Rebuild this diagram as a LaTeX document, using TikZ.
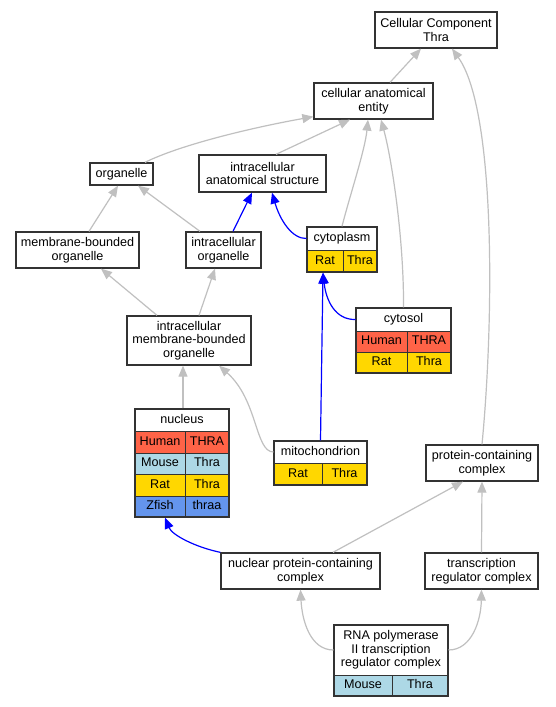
\documentclass[tikz,border=0pt]{standalone}
\usepackage{fontspec}
\setmainfont{Liberation Sans}
\usetikzlibrary{arrows.meta}
\definecolor{human}{HTML}{FF6347}
\definecolor{mouse}{HTML}{ADD8E6}
\definecolor{rat}{HTML}{FFD700}
\definecolor{zfish}{HTML}{6495ED}
\definecolor{bd}{HTML}{333333}
\definecolor{eg}{HTML}{C0C0C0}
\newcommand{\boxnode}[6]{\node[box, minimum width={#3pt-#1pt}, minimum height={#4pt-#2pt}] (#5) at ({(#1+#3)/2},{(#2+#4)/2}) {#6};}
\newcommand{\cellnode}[7]{\node[cellst, fill=#5, minimum width={#3pt-#1pt}, minimum height={#4pt-#2pt}] (#7) at ({(#1+#3)/2},{(#2+#4)/2}) {#6};}
\newcommand{\tblframe}[5]{\node[tframe, minimum width={#3pt-#1pt}, minimum height={#4pt-#2pt}] (#5) at ({(#1+#3)/2},{(#2+#4)/2}) {};}
\begin{document}
\begin{tikzpicture}[x=1pt,y=-1pt, font=\fontsize{12.6}{13.5}\selectfont,
  box/.style={draw=bd, line width=1.3pt, fill=white, align=center, inner sep=0pt},
  cellst/.style={draw=bd, line width=1pt, align=center, inner sep=0pt, text height=9.2pt, text depth=2.6pt},
  tframe/.style={draw=bd, line width=1.3pt, inner sep=0pt},
  tip/.style={-{Triangle[length=11pt,width=9pt]}},
  gedge/.style={draw=eg, line width=1.2pt, tip},
  bedge/.style={draw=blue, line width=1.2pt, tip}]
\useasboundingbox (0,0) rectangle (555,707);
\fill[white] (0,0) rectangle (555,707);
% plain boxes
\boxnode{375}{12}{497}{48}{cc}{Cellular Component\\Thra}
\boxnode{314}{83}{433}{119}{cae}{cellular anatomical\\entity}
\boxnode{90}{163}{153}{185}{org}{organelle}
\boxnode{199}{155}{326}{192}{ias}{intracellular\\anatomical structure}
\boxnode{16}{232}{139}{268}{mbo}{membrane-bounded\\organelle}
\boxnode{186}{232}{261}{268}{io}{intracellular\\organelle}
\boxnode{127}{316}{251}{365}{imbo}{intracellular\\membrane-bounded\\organelle}
\boxnode{426}{445}{538}{481}{pcc}{protein-containing\\complex}
\boxnode{221}{553}{380}{589}{npcc}{nuclear protein-containing\\complex}
\boxnode{425}{553}{538}{589}{trc}{transcription\\regulator complex}
% cytoplasm
\cellnode{307}{227}{377}{250}{white}{cytoplasm}{cytoh}
\cellnode{307}{250}{343}{272}{rat}{Rat}{cyto1}
\cellnode{343}{250}{377}{272}{rat}{Thra}{cyto2}
\tblframe{307}{227}{377}{272}{cyto}
% cytosol
\cellnode{356}{308}{451}{331}{white}{cytosol}{cytosolh}
\cellnode{356}{331}{407}{352}{human}{Human}{cytosol1}
\cellnode{407}{331}{451}{352}{human}{THRA}{cytosol2}
\cellnode{356}{352}{407}{373}{rat}{Rat}{cytosol3}
\cellnode{407}{352}{451}{373}{rat}{Thra}{cytosol4}
\tblframe{356}{308}{451}{373}{cytosol}
% nucleus
\cellnode{135}{409}{229}{431}{white}{nucleus}{nuch}
\cellnode{135}{431}{185}{453}{human}{Human}{nuc1}
\cellnode{185}{431}{229}{453}{human}{THRA}{nuc2}
\cellnode{135}{453}{185}{474}{mouse}{Mouse}{nuc3}
\cellnode{185}{453}{229}{474}{mouse}{Thra}{nuc4}
\cellnode{135}{474}{185}{496}{rat}{Rat}{nuc5}
\cellnode{185}{474}{229}{496}{rat}{Thra}{nuc6}
\cellnode{135}{496}{185}{517}{zfish}{Zfish}{nuc7}
\cellnode{185}{496}{229}{517}{zfish}{thraa}{nuc8}
\tblframe{135}{409}{229}{517}{nuc}
% mitochondrion
\cellnode{274}{441}{367}{463}{white}{mitochondrion}{mitoh}
\cellnode{274}{463}{322}{485}{rat}{Rat}{mito1}
\cellnode{322}{463}{367}{485}{rat}{Thra}{mito2}
\tblframe{274}{441}{367}{485}{mito}
% RNA polymerase
\node[cellst, text height=, text depth=, fill=white, minimum width=114pt, minimum height=50pt] (rnah) at (391,650) {RNA polymerase\\II transcription\\regulator complex};
\cellnode{334}{675}{392}{696}{mouse}{Mouse}{rna1}
\cellnode{392}{675}{448}{696}{mouse}{Thra}{rna2}
\tblframe{334}{625}{448}{696}{rna}
% edges
\draw[gedge] ([xshift=16.5pt]cae.north) -- ([xshift=-15pt]cc.south);
\draw[gedge] (pcc.north) .. controls (494,320) and (496,110) .. ([xshift=16pt]cc.south);
\draw[gedge] ([xshift=23.5pt]org.north) .. controls (180,145) and (250,128) .. ([yshift=3pt]cae.south west);
\draw[gedge] ([xshift=13.5pt]ias.north) -- ([xshift=-23.5pt]cae.south);
\draw[gedge] (cyto.north) .. controls (350,195) and (365,150) .. ([xshift=-5.5pt]cae.south);
\draw[gedge] (cytosol.north) .. controls (404,240) and (392,160) .. ([xshift=7.5pt]cae.south);
\draw[gedge] ([xshift=11.5pt]mbo.north) -- ([xshift=-3.5pt]org.south);
\draw[gedge] ([xshift=-23.5pt]io.north) -- ([xshift=16.5pt]org.south);
\draw[bedge] ([xshift=9.5pt]io.north) -- ([xshift=-10.5pt]ias.south);
\draw[bedge] (cytoh.west) .. controls (292,239) and (280,220) .. ([xshift=9.5pt]ias.south);
\draw[bedge] (cytosolh.west) .. controls (335,320) and (326,300) .. ([xshift=-19pt]cyto.south);
\draw[bedge] (mito.north) -- ([xshift=-19pt]cyto.south);
\draw[gedge] ([xshift=-32pt]imbo.north) -- ([xshift=23.5pt]mbo.south);
\draw[gedge] ([xshift=10pt]imbo.north) -- ([xshift=-8.5pt]io.south);
\draw[gedge] ([xshift=1pt]nuc.north) -- ([xshift=-6pt]imbo.south);
\draw[gedge] (mitoh.west) .. controls (255,452) and (258,400) .. ([xshift=30pt]imbo.south);
\draw[bedge] (npcc.north west) .. controls (195,547) and (172,535) .. ([xshift=-17pt]nuc.south);
\draw[gedge] ([xshift=32.5pt]npcc.north) -- ([xshift=-19pt]pcc.south);
\draw[gedge] (trc.north) -- (pcc.south);
\draw[gedge] (rnah.west) .. controls (310,650) and (302,620) .. (npcc.south);
\draw[gedge] (rnah.east) .. controls (472,650) and (481,620) .. (trc.south);
\end{tikzpicture}
\end{document}
